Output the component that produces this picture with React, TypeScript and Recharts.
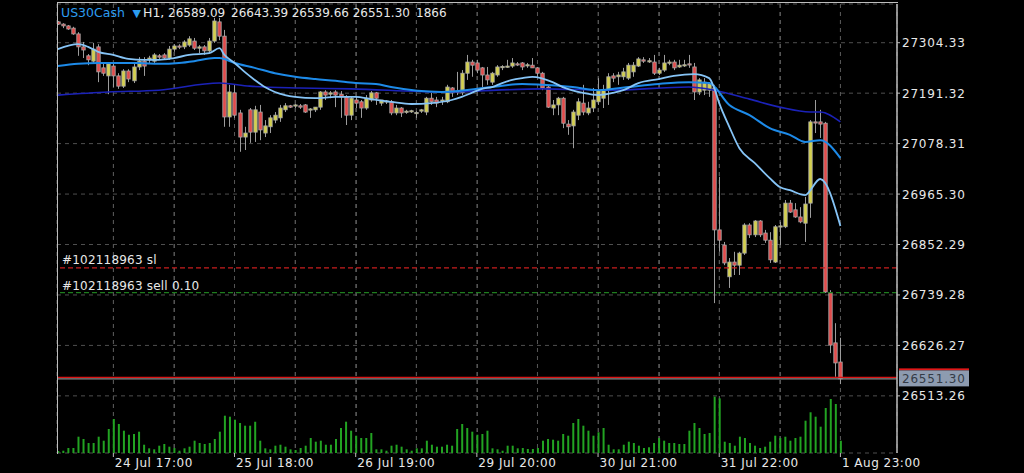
import React from 'react';
import { ComposedChart, Bar, Line, XAxis, YAxis, CartesianGrid, ReferenceLine } from 'recharts';

const opens = [
  27351, 27346, 27342, 27337, 27324, 27295, 27275, 27263, 27295, 27248,
  27230, 27252, 27230, 27207, 27241, 27219, 27250, 27263, 27266, 27263,
  27275, 27277, 27270, 27290, 27297, 27295, 27299, 27308, 27292, 27295,
  27286, 27308, 27351, 27319, 27138, 27192, 27147, 27093, 27154, 27104,
  27149, 27102, 27116, 27131, 27136, 27154, 27163, 27163, 27163, 27165,
  27154, 27154, 27160, 27194, 27189, 27194, 27189, 27183, 27142, 27176,
  27172, 27158, 27176, 27192, 27169, 27172, 27172, 27147, 27158, 27149,
  27151, 27147, 27151, 27149, 27180, 27176, 27174, 27172, 27203, 27194,
  27192, 27236, 27261, 27259, 27248, 27232, 27216, 27232, 27250, 27250,
  27252, 27257, 27259, 27254, 27254, 27248, 27236, 27205, 27158, 27165,
  27180, 27122, 27118, 27142, 27169, 27147, 27158, 27172, 27180, 27198,
  27230, 27228, 27228, 27225, 27239, 27252, 27266, 27263, 27261, 27236,
  27243, 27259, 27261, 27250, 27254, 27257, 27250, 27194, 27198, 27198,
  27203, 26885, 26851, 26780, 26813, 26806, 26833, 26896, 26874, 26905,
  26878, 26862, 26813, 26892, 26892, 26945, 26930, 26914, 26900, 26945,
  27127, 27127, 27124, 26744, 26632, 26589.09,
];
const highs = [
  27353, 27348, 27344, 27340, 27328, 27306, 27279, 27304, 27301, 27261,
  27261, 27261, 27236, 27245, 27245, 27257, 27272, 27272, 27275, 27281,
  27279, 27281, 27297, 27301, 27301, 27310, 27319, 27315, 27299, 27299,
  27315, 27360, 27360, 27333, 27210, 27210, 27154, 27116, 27158, 27163,
  27165, 27131, 27142, 27149, 27165, 27169, 27165, 27167, 27167, 27167,
  27158, 27160, 27196, 27198, 27196, 27198, 27196, 27187, 27183, 27183,
  27176, 27187, 27196, 27194, 27176, 27176, 27176, 27165, 27160, 27154,
  27154, 27151, 27156, 27183, 27192, 27183, 27183, 27210, 27205, 27239,
  27243, 27277, 27266, 27266, 27250, 27250, 27239, 27254, 27254, 27266,
  27270, 27261, 27261, 27259, 27270, 27250, 27239, 27210, 27176, 27183,
  27183, 27131, 27154, 27180, 27210, 27172, 27203, 27225, 27210, 27236,
  27236, 27239, 27248, 27259, 27261, 27272, 27272, 27270, 27277, 27248,
  27277, 27266, 27266, 27266, 27266, 27277, 27259, 27225, 27225, 27216,
  27210, 27004, 26858, 26822, 26836, 26836, 26900, 26900, 26907, 26907,
  26885, 26880, 26896, 26903, 26952, 26952, 26945, 26936, 26959, 27131,
  27176, 27154, 27127, 26750, 26676, 26643.39,
];
const lows = [
  27344, 27337, 27333, 27322, 27275, 27270, 27254, 27257, 27216, 27230,
  27189, 27205, 27201, 27203, 27216, 27214, 27243, 27230, 27259, 27259,
  27266, 27266, 27266, 27284, 27290, 27290, 27295, 27288, 27281, 27277,
  27281, 27304, 27310, 27116, 27116, 27136, 27060, 27064, 27080, 27082,
  27086, 27093, 27102, 27124, 27127, 27149, 27158, 27158, 27156, 27147,
  27136, 27149, 27154, 27176, 27180, 27160, 27136, 27120, 27131, 27158,
  27136, 27154, 27172, 27165, 27163, 27167, 27142, 27142, 27138, 27145,
  27147, 27136, 27147, 27142, 27165, 27160, 27165, 27169, 27183, 27187,
  27187, 27221, 27228, 27236, 27205, 27210, 27210, 27228, 27243, 27248,
  27248, 27252, 27243, 27248, 27248, 27228, 27198, 27158, 27142, 27142,
  27113, 27098, 27068, 27131, 27142, 27142, 27149, 27165, 27158, 27165,
  27216, 27210, 27221, 27221, 27228, 27250, 27259, 27259, 27232, 27232,
  27239, 27254, 27243, 27248, 27250, 27248, 27176, 27187, 27187, 27183,
  26721, 26836, 26806, 26755, 26784, 26784, 26829, 26867, 26869, 26869,
  26856, 26811, 26811, 26851, 26889, 26923, 26912, 26900, 26858, 26912,
  27102, 27091, 26744, 26609, 26556, 26539.66,
];
const closes = [
  27346, 27342, 27335, 27324, 27295, 27288, 27266, 27290, 27239, 27236,
  27257, 27230, 27207, 27241, 27223, 27250, 27263, 27252, 27270, 27277,
  27272, 27270, 27290, 27297, 27295, 27306, 27313, 27292, 27295, 27286,
  27308, 27353, 27319, 27138, 27194, 27142, 27093, 27102, 27104, 27154,
  27109, 27118, 27136, 27142, 27158, 27163, 27160, 27165, 27160, 27149,
  27156, 27160, 27194, 27187, 27192, 27187, 27183, 27142, 27180, 27169,
  27158, 27180, 27192, 27180, 27176, 27174, 27147, 27158, 27147, 27151,
  27152, 27148, 27154, 27180, 27172, 27169, 27176, 27205, 27192, 27196,
  27236, 27261, 27254, 27243, 27232, 27221, 27236, 27250, 27251, 27252,
  27259, 27256, 27250, 27255, 27248, 27236, 27203, 27160, 27165, 27180,
  27124, 27116, 27149, 27172, 27149, 27158, 27176, 27198, 27198, 27228,
  27225, 27232, 27239, 27254, 27254, 27268, 27263, 27264, 27236, 27243,
  27259, 27261, 27248, 27254, 27255, 27256, 27194, 27221, 27216, 27212,
  26885, 26862, 26811, 26813, 26806, 26833, 26896, 26874, 26905, 26874,
  26862, 26818, 26892, 26894, 26945, 26925, 26914, 26903, 26943, 27127,
  27125, 27122, 26746, 26627, 26587, 26551.30,
];
const volumes = [
  300, 350, 760, 760, 2480, 2130, 1520, 1520, 2480, 1870,
  3650, 5170, 4410, 3390, 2780, 2890, 3240, 1260, 710, 560,
  1110, 1370, 960, 760, 350, 710, 960, 1870, 1520, 1370,
  1520, 2130, 3240, 5670, 5520, 5060, 4560, 4150, 4150, 4760,
  1870, 710, 560, 1110, 1260, 960, 560, 460, 760, 1110,
  2280, 1720, 1870, 1260, 1260, 2130, 3800, 4760, 3390, 2630,
  2280, 2280, 3040, 560, 560, 350, 1110, 1260, 960, 560,
  350, 710, 710, 1870, 1260, 960, 960, 1260, 1110, 3650,
  4410, 3800, 3240, 2780, 2890, 3390, 710, 560, 350, 1110,
  1110, 710, 760, 610, 610, 760, 1870, 2130, 2020, 1870,
  2890, 2630, 4560, 5170, 4150, 3390, 2630, 3150, 3800, 1260,
  560, 560, 1260, 1720, 1520, 1110, 760, 870, 1520, 2280,
  1870, 1520, 1520, 1370, 1370, 3390, 4560, 3800, 2890, 3040,
  8560, 8310, 1720, 1520, 1110, 2480, 2280, 1520, 1110, 760,
  960, 1720, 2630, 2280, 2480, 1870, 2280, 2480, 4910, 6190,
  5520, 4000, 6840, 8210, 7450, 1866,
];

// Moving averages (sampled along the lines)
const fastIdx = [0, 4, 6, 8, 11, 14, 17, 20, 23, 26, 30, 32, 33, 35, 37, 39, 41, 43, 45, 47, 51, 55, 59, 62, 66, 70, 74, 78, 80, 82, 84, 86, 88, 90, 92, 94, 98, 100, 104, 107, 110, 112, 115, 119, 122, 126, 129, 130, 131, 133, 135, 138, 141, 143, 145, 148, 151, 155];
const fastVal = [27290, 27301, 27295, 27284, 27277, 27268, 27266, 27266, 27270, 27277, 27281, 27292, 27277, 27259, 27239, 27221, 27205, 27194, 27187, 27183, 27180, 27183, 27183, 27178, 27172, 27167, 27169, 27176, 27183, 27192, 27201, 27205, 27214, 27221, 27225, 27228, 27216, 27205, 27192, 27187, 27192, 27198, 27214, 27223, 27230, 27234, 27225, 27203, 27169, 27116, 27068, 27035, 27001, 26981, 26974, 26963, 26999, 26894];
const midIdx = [0, 4, 8, 12, 16, 20, 24, 27, 31, 32, 35, 39, 43, 47, 51, 55, 59, 63, 66, 76, 86, 92, 96, 102, 107, 113, 119, 125, 129, 133, 137, 141, 145, 148, 151, 155];
const midVal = [27252, 27257, 27259, 27259, 27259, 27257, 27259, 27263, 27270, 27270, 27259, 27248, 27236, 27228, 27223, 27219, 27214, 27212, 27205, 27194, 27205, 27212, 27210, 27205, 27198, 27205, 27212, 27216, 27214, 27165, 27142, 27113, 27098, 27082, 27086, 27046];
const slowIdx = [0, 10, 20, 32, 38, 48, 58, 76, 96, 109, 125, 130, 137, 143, 149, 151, 155];
const slowVal = [27187, 27194, 27198, 27214, 27207, 27203, 27201, 27194, 27201, 27198, 27205, 27198, 27178, 27160, 27149, 27149, 27127];

const gridIdx = [11, 23, 35, 47, 59, 71, 83, 95, 107, 119, 131, 143, 155];
const labelIdx = [11, 35, 59, 83, 107, 131, 155];
const labelText = ['24 Jul 17:00', '25 Jul 18:00', '26 Jul 19:00', '29 Jul 20:00', '30 Jul 21:00', '31 Jul 22:00', '1 Aug 23:00'];
const priceTicks = [26513.26, 26626.27, 26739.28, 26852.29, 26965.30, 27078.31, 27191.32, 27304.33];

// header: symbol, timeframe, last bar OHLC and tick volume
const symbol = 'US30Cash';
const timeframe = 'H1,';
const headerValues = ['26589.09', '26643.39', '26539.66', '26551.30', '1866'];

const slPrice = 26800;
const entryPrice = 26744.5;
const bidPrice = 26551.30;
const askPrice = 26554.6;

const X_DOMAIN: [number, number] = [-0.16, 166.21];
const Y_DOMAIN: [number, number] = [26385.28, 27391.04];
const FONT = '"DejaVu Sans", sans-serif';

const data = opens.map((o, i) => ({
  i,
  o,
  h: highs[i],
  l: lows[i],
  c: closes[i],
  v: volumes[i],
  hl: [lows[i], highs[i]],
  // vertical time-grid: a full-height span at each grid index
  grid: gridIdx.indexOf(i) >= 0 ? [Y_DOMAIN[0], Y_DOMAIN[1]] : null,
}));
const fastData = fastIdx.map((i, k) => ({ i, v: fastVal[k] }));
const midData = midIdx.map((i, k) => ({ i, v: midVal[k] }));
const slowData = slowIdx.map((i, k) => ({ i, v: slowVal[k] }));

const Candle = (props: any) => {
  const { x, y, width, height, payload } = props;
  if (!payload) return null;
  const top = Math.min(y, y + height);
  const bot = Math.max(y, y + height);
  const { o, h, l, c } = payload;
  const span = h - l || 1;
  const py = (p: number) => top + ((h - p) / span) * (bot - top);
  const cx = Math.round(x + width / 2) + 0.5;
  const bull = c >= o;
  const bt = py(Math.max(o, c));
  const bb = py(Math.min(o, c));
  return (
    <g>
      <line x1={cx} x2={cx} y1={top} y2={bot} stroke="#9c9c9c" strokeWidth={1} />
      <rect
        x={cx - 1.7}
        y={bt}
        width={3.4}
        height={Math.max(1.2, bb - bt)}
        fill={bull ? '#d4d04c' : '#e24a4a'}
        stroke="#a8a8a8"
        strokeWidth={0.8}
      />
    </g>
  );
};

const GridStroke = (props: any) => {
  const { x, y, width, height, payload } = props;
  if (!payload || !payload.grid) return null;
  const top = Math.min(y, y + height);
  const bot = Math.max(y, y + height);
  const cx = Math.round(x + width / 2) + 0.5;
  return <line x1={cx} x2={cx} y1={top} y2={bot} stroke="#545454" strokeWidth={1} strokeDasharray="4 4" />;
};

const XTick = (props: any) => {
  const { x, y } = props;
  return <line x1={x} x2={x} y1={y} y2={y} stroke="none" />;
};

const YTick = (props: any) => {
  const { x, y, payload } = props;
  return (
    <g>
      <line x1={x - 1} x2={x + 2} y1={y} y2={y} stroke="#bdbdbd" strokeWidth={1} />
      <text x={x + 4} y={y + 4.5} fill="#e8e8e8" fontSize={12} fontFamily={FONT} letterSpacing={0.8} textAnchor="start">
        {Number(payload.value).toFixed(2)}
      </text>
    </g>
  );
};

const timeLabel = (text: string) => (props: any) => {
  const vb = props.viewBox || {};
  const x = vb.x || 0;
  const bottom = (vb.y || 0) + (vb.height || 0);
  return (
    <g>
      <line x1={x} x2={x} y1={bottom} y2={bottom + 4} stroke="#bdbdbd" strokeWidth={1} />
      <text x={x + 1.5} y={bottom + 13.5} fill="#e8e8e8" fontSize={12} fontFamily={FONT} letterSpacing={0.5} textAnchor="start">
        {text}
      </text>
    </g>
  );
};

const lineLabel = (text: string, dy: number) => (props: any) => {
  const vb = props.viewBox || {};
  return (
    <text x={(vb.x || 0) + 5} y={(vb.y || 0) + dy} fill="#e8e8e8" fontSize={12} fontFamily={FONT} letterSpacing={0.2}>
      {text}
    </text>
  );
};

const headerOffsets = [111, 174, 234.7, 295.7, 359];
const headerLabel = (props: any) => {
  const vb = props.viewBox || {};
  const x0 = vb.x || 0;
  const by = (vb.y || 0) + 13;
  return (
    <g fontFamily={FONT} fontSize={12}>
      <text x={x0 + 4} y={by} fill="#2c9cf0" fontSize={12.5}>{symbol}</text>
      <text x={x0 + 75.5} y={by - 0.5} fill="#2c9cf0" fontSize={11}>▼</text>
      <text x={x0 + 86} y={by} fill="#e8e8e8" fontSize={12.5}>{timeframe}</text>
      {headerValues.map((t, k) => (
        <text key={k} x={x0 + headerOffsets[k]} y={by} fill="#e8e8e8">{t}</text>
      ))}
    </g>
  );
};

const bidLabel = (props: any) => {
  const vb = props.viewBox || {};
  const right = (vb.x || 0) + (vb.width || 0);
  const ly = vb.y || 0;
  return (
    <g>
      <rect x={right + 2} y={ly - 10.5} width={70} height={2} fill="#e01818" />
      <rect x={right + 2} y={ly - 8.5} width={70} height={16} fill="#8d9bb0" />
      <text x={right + 5} y={ly + 4} fill="#343b47" fontSize={12} fontFamily={FONT} letterSpacing={0.8}>
        {bidPrice.toFixed(2)}
      </text>
    </g>
  );
};

export default function App() {
  return (
    <div style={{ position: 'absolute', left: 0, top: 0, width: 1024, height: 473, background: '#000', overflow: 'hidden' }}>
      <ComposedChart width={1024} height={473} data={data} margin={{ top: 4, right: 0, bottom: 0, left: 57 }}>
        <XAxis
          xAxisId="x"
          dataKey="i"
          type="number"
          domain={X_DOMAIN}
          allowDataOverflow
          ticks={gridIdx}
          interval={0}
          height={20}
          tickSize={1}
          tickMargin={0}
          tickLine={false}
          axisLine={{ stroke: '#bdbdbd', strokeWidth: 1.5 }}
          tick={<XTick />}
        />
        <XAxis xAxisId="v" dataKey="i" type="number" domain={X_DOMAIN} allowDataOverflow hide />
        <XAxis xAxisId="g" dataKey="i" type="number" domain={X_DOMAIN} allowDataOverflow hide />
        <YAxis
          yAxisId="y"
          orientation="right"
          type="number"
          domain={Y_DOMAIN}
          allowDataOverflow
          ticks={priceTicks}
          interval={0}
          width={127}
          tickSize={1}
          tickMargin={0}
          tickLine={false}
          axisLine={{ stroke: '#bdbdbd', strokeWidth: 1.5 }}
          tick={<YTick />}
        />
        <YAxis yAxisId="vol" type="number" domain={[0, 68250]} allowDataOverflow hide />
        <CartesianGrid xAxisId="x" yAxisId="y" stroke="#4f4f4f" strokeDasharray="4 4" />
        <Bar xAxisId="g" yAxisId="y" dataKey="grid" barSize={1} shape={<GridStroke />} isAnimationActive={false} />
        <Bar xAxisId="v" yAxisId="vol" dataKey="v" fill="#22a322" barSize={2} isAnimationActive={false} />
        <Line xAxisId="x" yAxisId="y" data={slowData} dataKey="v" type="monotone" stroke="#1b22b8" strokeWidth={1.6} dot={false} isAnimationActive={false} />
        <Line xAxisId="x" yAxisId="y" data={midData} dataKey="v" type="monotone" stroke="#1d8ae8" strokeWidth={2} dot={false} isAnimationActive={false} />
        <Line xAxisId="x" yAxisId="y" data={fastData} dataKey="v" type="monotone" stroke="#86c4f6" strokeWidth={1.8} dot={false} isAnimationActive={false} />
        <Bar xAxisId="x" yAxisId="y" dataKey="hl" barSize={3} shape={<Candle />} isAnimationActive={false} />
        {labelIdx.map((li, k) => (
          <ReferenceLine key={'t' + li} xAxisId="x" yAxisId="y" x={li} stroke="none" strokeOpacity={0} label={timeLabel(labelText[k])} />
        ))}
        <ReferenceLine xAxisId="x" yAxisId="y" y={slPrice} stroke="#c81e1e" strokeWidth={1.3} strokeDasharray="5 3" label={lineLabel('#102118963 sl', -3.5)} />
        <ReferenceLine xAxisId="x" yAxisId="y" y={entryPrice} stroke="#1e7d1e" strokeWidth={1.3} strokeDasharray="5 3" label={lineLabel('#102118963 sell 0.10', -3)} />
        <ReferenceLine xAxisId="x" yAxisId="y" y={bidPrice} stroke="#8a8a8a" strokeWidth={1.2} label={bidLabel} />
        <ReferenceLine xAxisId="x" yAxisId="y" y={askPrice} stroke="#d81414" strokeWidth={1.2} />
        <ReferenceLine xAxisId="x" yAxisId="y" y={27390} stroke="none" strokeOpacity={0} label={headerLabel} />
      </ComposedChart>
      <div style={{ position: 'absolute', left: 57, top: 2, width: 840, height: 451, borderLeft: '1.5px solid #bdbdbd', borderTop: '1.5px solid #bdbdbd', pointerEvents: 'none' }} />
    </div>
  );
}
